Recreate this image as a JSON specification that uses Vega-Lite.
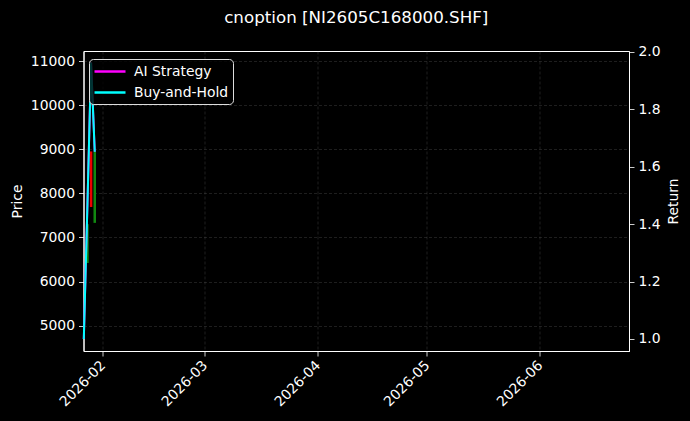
{
  "$schema": "https://vega.github.io/schema/vega-lite/v6.json",
  "width": 545.5,
  "height": 300,
  "autosize": {"type": "none"},
  "padding": {"left": 83.5, "top": 51, "right": 61, "bottom": 70},
  "background": "#000000",
  "title": {
    "text": "cnoption [NI2605C168000.SHF]",
    "color": "white",
    "font": "DejaVu Sans",
    "fontSize": 16.7,
    "fontWeight": "normal",
    "anchor": "middle",
    "frame": "group",
    "baseline": "alphabetic",
    "offset": 5
  },
  "datasets": {
    "candles": [
      {"date": "2026-01-28T00:00:00", "open": 6420, "close": 7300},
      {"date": "2026-01-29T00:00:00", "open": 8950, "close": 7690},
      {"date": "2026-01-30T00:00:00", "open": 7330, "close": 8950}
    ],
    "returns": [
      {"date": "2026-01-27T00:00:00", "series": "AI Strategy", "ret": 1.0},
      {"date": "2026-01-28T00:00:00", "series": "AI Strategy", "ret": 1.47},
      {"date": "2026-01-29T00:00:00", "series": "AI Strategy", "ret": 1.963},
      {"date": "2026-01-30T00:00:00", "series": "AI Strategy", "ret": 1.652},
      {"date": "2026-01-27T00:00:00", "series": "Buy-and-Hold", "ret": 1.0},
      {"date": "2026-01-28T00:00:00", "series": "Buy-and-Hold", "ret": 1.47},
      {"date": "2026-01-29T00:00:00", "series": "Buy-and-Hold", "ret": 1.963},
      {"date": "2026-01-30T00:00:00", "series": "Buy-and-Hold", "ret": 1.652}
    ]
  },
  "layer": [
    {
      "data": {"name": "candles"},
      "mark": {"type": "rule", "strokeWidth": 2.5},
      "encoding": {
        "x": {
          "field": "date", "type": "temporal",
          "scale": {"domain": [
            {"year": 2026, "month": 1, "date": 26, "hours": 22},
            {"year": 2026, "month": 6, "date": 25, "hours": 15}
          ]},
          "axis": {
            "title": null,
            "format": "%Y-%m",
            "tickCount": {"interval": "month", "step": 1},
            "labelAngle": 315,
            "labelAlign": "right",
            "labelBaseline": "top",
            "labelOffset": -4,
            "labelPadding": 2
          }
        },
        "y": {
          "field": "open", "type": "quantitative",
          "scale": {"domain": [4425, 11227], "nice": false, "zero": false},
          "axis": {
            "orient": "left",
            "title": "Price",
            "format": "d",
            "values": [5000, 6000, 7000, 8000, 9000, 10000, 11000],
            "titleAngle": 270,
            "titleX": -66,
            "titleY": 150,
            "titleAlign": "center",
            "titleBaseline": "middle"
          }
        },
        "y2": {"field": "close"},
        "color": {"condition": {"test": "datum.close >= datum.open", "value": "#118811"}, "value": "#ee0000"}
      }
    },
    {
      "data": {"name": "returns"},
      "encoding": {
        "x": {"field": "date", "type": "temporal"},
        "y": {
          "field": "ret", "type": "quantitative",
          "scale": {"domain": [0.958, 2.003], "nice": false, "zero": false},
          "axis": {
            "orient": "right",
            "title": "Return",
            "values": [1.0, 1.2, 1.4, 1.6, 1.8, 2.0],
            "format": ".1f",
            "titleAngle": 270,
            "titleX": 44,
            "titleY": 150,
            "titleAlign": "center",
            "titleBaseline": "middle"
          }
        },
        "color": {
          "field": "series", "type": "nominal",
          "scale": {"domain": ["AI Strategy", "Buy-and-Hold"], "range": ["#ff00ff", "#00ffff"]},
          "legend": {
            "orient": "none",
            "legendX": 5.5,
            "legendY": 8,
            "title": null,
            "symbolType": "M-1,0H3.43",
            "symbolStrokeWidth": 2.5,
            "symbolSize": 196,
            "symbolOpacity": 1,
            "labelColor": "white",
            "labelFont": "DejaVu Sans",
            "labelFontSize": 13.9,
            "labelOffset": 24,
            "strokeColor": "#dddddd",
            "fillColor": "rgba(0,0,0,0.8)",
            "cornerRadius": 4,
            "padding": 4,
            "rowPadding": 5
          }
        }
      },
      "layer": [
        {
          "transform": [{"filter": "datum.series == 'AI Strategy'"}],
          "mark": {"type": "line", "strokeWidth": 2}
        },
        {
          "transform": [{"filter": "datum.series == 'Buy-and-Hold'"}],
          "mark": {"type": "line", "strokeWidth": 2}
        }
      ]
    }
  ],
  "resolve": {"scale": {"y": "independent"}},
  "config": {
    "view": {"stroke": "white", "strokeWidth": 1},
    "axis": {
      "labelColor": "white",
      "titleColor": "white",
      "tickColor": "white",
      "domainColor": "white",
      "labelFont": "DejaVu Sans",
      "titleFont": "DejaVu Sans",
      "labelFontSize": 13.9,
      "titleFontSize": 13.9,
      "titleFontWeight": "normal",
      "tickSize": 5,
      "tickWidth": 0.8,
      "domainWidth": 1,
      "labelPadding": 4,
      "grid": true,
      "gridColor": "#888888",
      "gridOpacity": 0.45,
      "gridDash": [3, 2],
      "gridWidth": 0.5
    }
  }
}
